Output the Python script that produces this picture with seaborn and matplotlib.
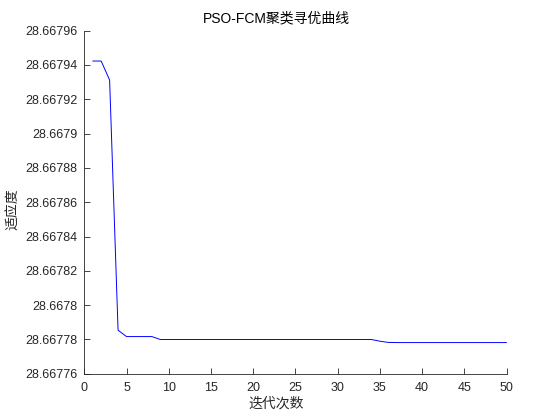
import numpy as np
import pandas as pd
import matplotlib
matplotlib.use("Agg")
import matplotlib.pyplot as plt
import seaborn as sns
from matplotlib.ticker import FuncFormatter, MultipleLocator

# iteration number vs best fitness
iters = list(range(1, 51))
fitness = [
    28.6679423, 28.6679423, 28.6679312, 28.6677854, 28.6677817,
    28.6677817, 28.6677817, 28.6677817, 28.6677800, 28.6677800,
    28.6677800, 28.6677800, 28.6677800, 28.6677800, 28.6677800,
    28.6677800, 28.6677800, 28.6677800, 28.6677800, 28.6677800,
    28.6677800, 28.6677800, 28.6677800, 28.6677800, 28.6677800,
    28.6677800, 28.6677800, 28.6677800, 28.6677800, 28.6677800,
    28.6677800, 28.6677800, 28.6677800, 28.6677800, 28.6677790,
    28.6677783, 28.6677782, 28.6677782, 28.6677782, 28.6677782,
    28.6677782, 28.6677782, 28.6677782, 28.6677782, 28.6677782,
    28.6677782, 28.6677782, 28.6677782, 28.6677782, 28.6677782,
]
title = "PSO-FCM聚类寻优曲线"
xlab = "迭代次数"
ylab = "适应度"

df = pd.DataFrame({"iter": iters, "fit": fitness})

sns.set_style("ticks")
plt.rcParams['font.family'] = ['Liberation Sans', 'Noto Sans CJK SC', 'DejaVu Sans']

fig = plt.figure(figsize=(5.6, 4.2), dpi=100)
ax = fig.add_axes([0.1505, 0.11, 0.754, 0.817])
sns.lineplot(data=df, x="iter", y="fit", ax=ax, color="#0000ff", linewidth=0.7)

ax.set_xlim(0, 50)
ax.set_ylim(28.66776, 28.66796)
ax.xaxis.set_major_locator(MultipleLocator(5))
ax.yaxis.set_major_locator(MultipleLocator(0.00002))
ax.yaxis.set_major_formatter(FuncFormatter(lambda v, p: f"{v:.5f}".rstrip('0').rstrip('.')))
ax.tick_params(direction='in', length=4, width=0.6, labelsize=9, colors='#262626')
ax.tick_params(axis='x', pad=6)
ax.tick_params(axis='y', pad=5)
for s in ['top', 'right']:
    ax.spines[s].set_visible(False)
for s in ['left', 'bottom']:
    ax.spines[s].set_linewidth(0.6)
    ax.spines[s].set_color('#262626')

ax.set_title(title, fontsize=10, x=0.455, pad=6, color='black')
ax.set_xlabel(xlab, fontsize=10, family=['Noto Sans CJK SC', 'DejaVu Sans'])
ax.xaxis.set_label_coords(0.455, -0.065)
ax.set_ylabel(ylab, fontsize=10, family=['Noto Sans CJK SC', 'DejaVu Sans'])
ax.yaxis.set_label_coords(-0.152, 0.48)

fig.savefig("out.png", dpi=100)
